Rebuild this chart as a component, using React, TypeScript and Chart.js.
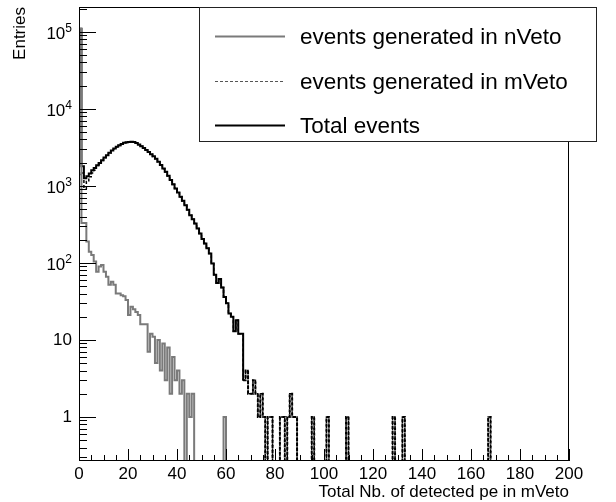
import React, { useEffect, useRef } from "react";
import { Chart, registerables } from "chart.js";

Chart.register(...registerables);

// ---- axis ranges ----
const X_MIN = 0;
const X_MAX = 200;
const BIN_WIDTH = 1;
const N_BINS = 200;
const Y_MIN = 0.268;
const Y_MAX = 2.1e5;

const X_TICK_LABELS = [0, 20, 40, 60, 80, 100, 120, 140, 160, 180, 200];
const Y_TICK_DECADES = [0, 1, 2, 3, 4, 5];

const X_TITLE = "Total Nb. of detected pe in mVeto";
const Y_TITLE = "Entries";

const LABEL_NVETO = "events generated in nVeto";
const LABEL_MVETO = "events generated in mVeto";
const LABEL_TOTAL = "Total events";

// ---- bin contents (bins of width 1, starting at 0) ----
// dense part of the total histogram, bins 0..66
const TOTAL_DENSE = [
  110000, 1800, 1260, 1330, 1450, 1600, 1700, 1850, 1980, 2150,
  2330, 2500, 2700, 2880, 3050, 3220, 3380, 3500, 3620, 3680,
  3720, 3730, 3700, 3600, 3450, 3280, 3100, 2930, 2760, 2580,
  2420, 2250, 2050, 1860, 1680, 1520, 1350, 1190, 1050, 925,
  820, 720, 640, 561, 490, 416, 370, 324, 280, 240,
  205, 178, 155, 132, 98, 70, 55, 62, 48, 36,
  30, 22, 20, 13, 18, 12, 12,
];

// dense part of the mVeto histogram, bins 0..66
const MVETO_DENSE = [
  1400, 1470, 930, 1140, 1310, 1473, 1596, 1773, 1890, 2056,
  2253, 2434, 2648, 2823, 2998, 3180, 3340, 3462, 3583, 3647,
  3699, 3703, 3675, 3577, 3429, 3264, 3084, 2914, 2753, 2568,
  2409, 2245, 2040, 1856, 1671, 1517, 1342, 1188, 1044, 922,
  816, 718, 637, 561, 488, 415, 368, 324, 280, 240,
  205, 178, 155, 132, 98, 70, 55, 62, 48, 35,
  30, 22, 20, 13, 18, 12, 12,
];

// dense part of the nVeto histogram, bins 0..46
const NVETO_DENSE = [
  110000, 330, 330, 190, 140, 127, 104, 77, 90, 94,
  77, 66, 52, 57, 52, 40, 40, 38, 37, 33,
  21, 27, 25, 23, 21, 16, 16, 16, 7, 12,
  11, 5, 10, 4, 9, 3, 8, 2, 6, 3,
  4, 2, 3, 0, 2, 1, 2,
];

// sparse tail (bins >= 67), identical for total and mVeto
const TAIL_BINS = [67, 68, 69, 70, 71, 72, 73, 74, 75, 77, 78, 82, 83, 85, 86, 87, 88, 95, 101, 109, 128, 132, 167];
const TAIL_TOTAL = [3, 4, 2, 2, 3, 2, 1, 2, 1, 1, 1, 1, 1, 1, 2, 1, 1, 1, 1, 1, 1, 1, 1];
const TAIL_MVETO = [3, 4, 2, 2, 3, 2, 1, 2, 1, 1, 1, 1, 1, 1, 2, 1, 1, 1, 1, 1, 1, 1, 1];

const NVETO_TAIL_BINS = [59];
const NVETO_TAIL = [1];

function buildHist(dense: number[], bins: number[], counts: number[]): number[] {
  const h = new Array(N_BINS).fill(0);
  dense.forEach((v, i) => (h[i] = v));
  bins.forEach((b, k) => (h[b] = counts[k]));
  return h;
}

function toSteps(h: number[]) {
  const pts: { x: number; y: number }[] = [{ x: X_MIN, y: Y_MIN }];
  h.forEach((v, i) => pts.push({ x: X_MIN + i * BIN_WIDTH, y: v > 0 ? v : Y_MIN }));
  pts.push({ x: X_MAX, y: Y_MIN });
  return pts;
}

const FONT = '"Liberation Sans", Arial, Helvetica, sans-serif';

const rootPlugin = {
  id: "rootStyle",
  afterDatasetsDraw(chart: any) {
    const { ctx, chartArea: ca, scales } = chart;
    const xs = scales.x;
    const ys = scales.y;
    ctx.save();
    ctx.strokeStyle = "#000";
    ctx.fillStyle = "#000";
    ctx.lineWidth = 1;
    // frame
    ctx.strokeRect(ca.left + 0.5, ca.top + 0.5, ca.right - ca.left - 1, ca.bottom - ca.top - 1);

    // y ticks (log)
    ctx.beginPath();
    for (let d = -1; d <= 5; d++) {
      for (let k = 1; k <= 9; k++) {
        const v = k * Math.pow(10, d);
        if (v < Y_MIN || v > Y_MAX) continue;
        const y = Math.round(ys.getPixelForValue(v)) + 0.5;
        const len = k === 1 ? 17 : 8;
        ctx.moveTo(ca.left, y);
        ctx.lineTo(ca.left + len, y);
      }
    }
    // x ticks
    for (let v = X_MIN; v <= X_MAX; v += 5) {
      const x = Math.round(xs.getPixelForValue(v)) + 0.5;
      const len = v % 20 === 0 ? 12 : 6;
      ctx.moveTo(x, ca.bottom);
      ctx.lineTo(x, ca.bottom - len);
    }
    ctx.stroke();

    // y labels
    const R = ca.left - 7;
    Y_TICK_DECADES.forEach((d) => {
      const y = ys.getPixelForValue(Math.pow(10, d));
      if (d <= 1) {
        ctx.font = `17px ${FONT}`;
        ctx.textAlign = "right";
        ctx.textBaseline = "middle";
        ctx.fillText(d === 0 ? "1" : "10", R, y);
      } else {
        ctx.font = `12px ${FONT}`;
        const sw = ctx.measureText(String(d)).width;
        ctx.textAlign = "left";
        ctx.textBaseline = "alphabetic";
        ctx.fillText(String(d), R - sw, y + 0.5);
        ctx.font = `17px ${FONT}`;
        ctx.textAlign = "right";
        ctx.textBaseline = "middle";
        ctx.fillText("10", R - sw, y + 2);
      }
    });

    // x labels
    ctx.font = `17px ${FONT}`;
    ctx.textAlign = "center";
    ctx.textBaseline = "middle";
    X_TICK_LABELS.forEach((v) => {
      ctx.fillText(String(v), xs.getPixelForValue(v), 474);
    });

    // x title
    ctx.textAlign = "right";
    ctx.textBaseline = "alphabetic";
    ctx.fillText(X_TITLE, ca.right, 497);

    // y title
    ctx.save();
    ctx.translate(20, ca.top);
    ctx.rotate(-Math.PI / 2);
    ctx.textAlign = "right";
    ctx.textBaseline = "middle";
    ctx.fillText(Y_TITLE, 0, 0);
    ctx.restore();

    // legend
    const box = { l: 199, t: 7, r: 597, b: 142 };
    ctx.fillStyle = "#fff";
    ctx.fillRect(box.l, box.t, box.r - box.l, box.b - box.t);
    ctx.strokeStyle = "#222";
    ctx.lineWidth = 1;
    ctx.strokeRect(box.l + 0.5, box.t + 0.5, box.r - box.l - 1, box.b - box.t - 1);
    const rows = [36.5, 81.5, 125.5];
    chart.data.datasets.forEach((ds: any, i: number) => {
      const y = rows[i];
      ctx.save();
      ctx.strokeStyle = ds.legendColor || ds.borderColor;
      ctx.lineWidth = ds.legendWidth;
      ctx.setLineDash(ds.borderDash || []);
      ctx.beginPath();
      ctx.moveTo(215, y);
      ctx.lineTo(285, y);
      ctx.stroke();
      ctx.restore();
      ctx.fillStyle = "#000";
      ctx.font = `22.5px ${FONT}`;
      ctx.textAlign = "left";
      ctx.textBaseline = "middle";
      ctx.fillText(ds.label, 300, y + 1);
    });
    ctx.restore();
  },
};

export default function App() {
  const ref = useRef<HTMLCanvasElement | null>(null);
  useEffect(() => {
    if (!ref.current) return;
    const total = buildHist(TOTAL_DENSE, TAIL_BINS, TAIL_TOTAL);
    const mveto = buildHist(MVETO_DENSE, TAIL_BINS, TAIL_MVETO);
    const nveto = buildHist(NVETO_DENSE, NVETO_TAIL_BINS, NVETO_TAIL);
    const chart = new Chart(ref.current, {
      type: "line",
      data: {
        datasets: [
          {
            label: LABEL_NVETO,
            data: toSteps(nveto),
            borderColor: "#7a7a7a",
            borderWidth: 2,
            legendWidth: 2,
            stepped: "before",
            pointRadius: 0,
            fill: false,
          } as any,
          {
            label: LABEL_MVETO,
            data: toSteps(mveto),
            borderColor: "#000",
            legendColor: "#555",
            borderWidth: 1.5,
            legendWidth: 1,
            borderDash: [3, 2],
            stepped: "before",
            pointRadius: 0,
            fill: false,
          } as any,
          {
            label: LABEL_TOTAL,
            data: toSteps(total),
            borderColor: "#000",
            borderWidth: 2,
            legendWidth: 2,
            stepped: "before",
            pointRadius: 0,
            fill: false,
            segment: {
              borderDash: (c: any) => (c.p0.parsed.x >= 67 ? [3, 2] : undefined),
            },
          } as any,
        ],
      },
      options: {
        animation: false,
        responsive: false,
        events: [],
        layout: { padding: { left: 79, right: 47, top: 7, bottom: 41 } },
        plugins: { legend: { display: false }, tooltip: { enabled: false } },
        scales: {
          x: { type: "linear", min: X_MIN, max: X_MAX, display: false },
          y: { type: "logarithmic", min: Y_MIN, max: Y_MAX, display: false, bounds: "data" },
        },
      },
      plugins: [rootPlugin],
    });
    return () => chart.destroy();
  }, []);
  return (
    <div style={{ position: "fixed", left: 0, top: 0, width: 616, height: 502, background: "#fff" }}>
      <canvas ref={ref} width={616} height={502} />
    </div>
  );
}
